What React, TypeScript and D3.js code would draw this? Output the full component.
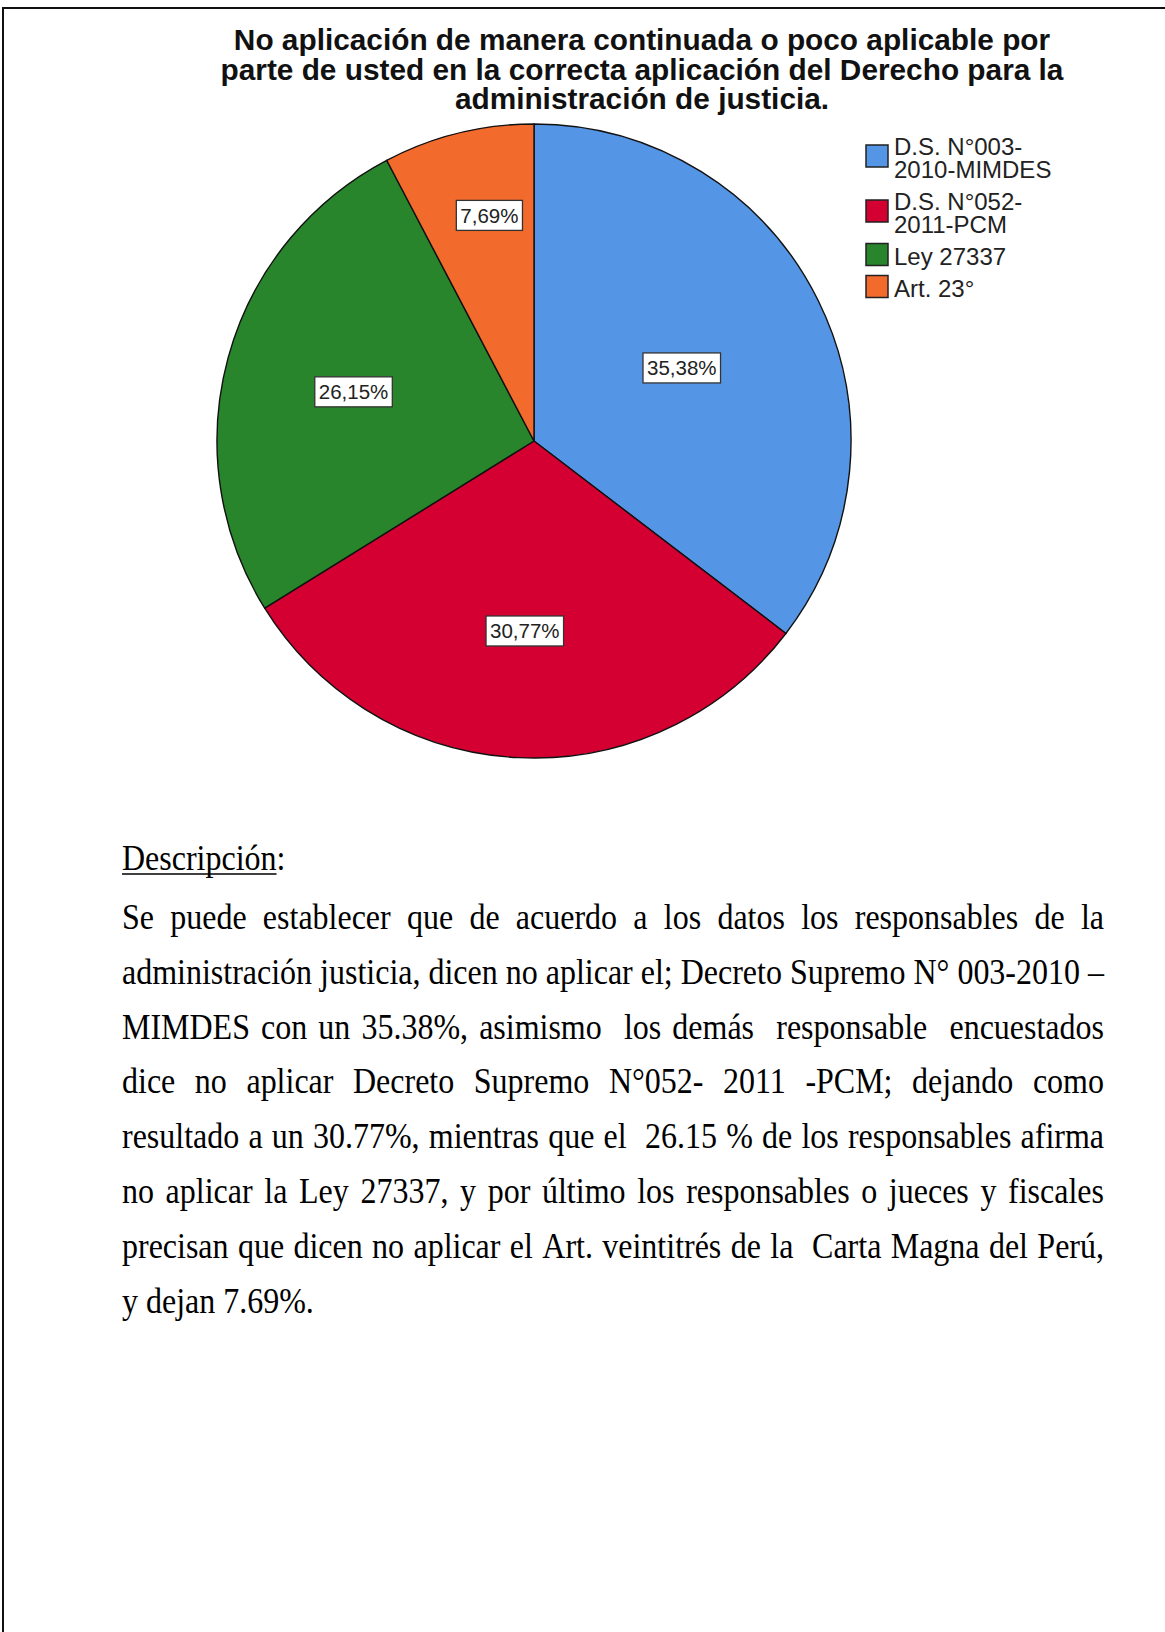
import React, { useEffect, useRef } from "react";
import * as d3 from "d3";

const W = 1165;
const H = 1632;

// chart data
const legendNames = [["D.S. N°003-", "2010-MIMDES"], ["D.S. N°052-", "2011-PCM"], ["Ley 27337"], ["Art. 23°"]];
const sliceValues = [35.38, 30.77, 26.15, 7.69];
const sliceColors = ["#5595e5", "#d40032", "#29852b", "#f26a2c"];

const titleLines = [
  "No aplicación de manera continuada o poco aplicable por",
  "parte de usted en la correcta aplicación del Derecho para la",
  "administración de justicia.",
];

const descHeading = "Descripción";
const descLines = [
  "Se puede establecer que de acuerdo a los datos los responsables de la",
  "administración justicia, dicen no aplicar el; Decreto Supremo N° 003-2010 –",
  "MIMDES con un 35.38%, asimismo  los demás  responsable  encuestados",
  "dice no aplicar Decreto Supremo N°052- 2011 -PCM; dejando como",
  "resultado a un 30.77%, mientras que el  26.15 % de los responsables afirma",
  "no aplicar la Ley 27337, y por último los responsables o jueces y fiscales",
  "precisan que dicen no aplicar el Art. veintitrés de la  Carta Magna del Perú,",
  "y dejan 7.69%.",
];

// how far out (fraction of radius) each slice label sits
const labelRadius = [0.52, 0.6, 0.59, 0.72];

const sans = "'Liberation Sans', Arial, sans-serif";
const serif = "'Liberation Serif', 'Times New Roman', serif";

const App = () => {
  const svgRef = useRef<SVGSVGElement>(null);

  useEffect(() => {
    const svg = d3.select(svgRef.current);
    svg.selectAll("*").remove();

    svg.append("rect").attr("width", W).attr("height", H).attr("fill", "#fff");

    // page frame (left + top only)
    svg
      .append("path")
      .attr("d", `M3,${H} V8 H${W}`)
      .attr("fill", "none")
      .attr("stroke", "#111")
      .attr("stroke-width", 2);

    // title, one text block with a tspan per line
    const title = svg
      .append("text")
      .attr("font-family", sans)
      .attr("font-weight", "bold")
      .attr("font-size", 29.8)
      .attr("text-anchor", "middle")
      .attr("fill", "#111");
    titleLines.forEach((t, i) => {
      title.append("tspan").attr("x", 642).attr("y", 50 + i * 29.5).text(t);
    });

    // pie
    const cx = 534;
    const cy = 441;
    const r = 317;
    const pie = d3.pie<number>().sort(null).value((d) => d);
    const arcs = pie(sliceValues);
    const arc = d3.arc<any>().innerRadius(0).outerRadius(r);

    const g = svg.append("g").attr("transform", `translate(${cx},${cy})`);
    g.selectAll("path.slice")
      .data(arcs)
      .join("path")
      .attr("class", "slice")
      .attr("d", arc)
      .attr("fill", (d, i) => sliceColors[i])
      .attr("stroke", "#111")
      .attr("stroke-width", 1.4)
      .attr("stroke-linejoin", "round");

    // slice labels
    const fmt = (v: number) => d3.format(".2f")(v).replace(".", ",") + "%";
    arcs.forEach((d, i) => {
      const lr = r * labelRadius[i];
      const [lx, ly] = d3.arc<any>().innerRadius(lr).outerRadius(lr).centroid(d);
      const lg = g.append("g").attr("transform", `translate(${lx + (i === 3 ? 10 : 0)},${ly - (i === 3 ? 4 : 0)})`);
      const txt = lg
        .append("text")
        .attr("text-anchor", "middle")
        .attr("y", 7.5)
        .attr("font-family", sans)
        .attr("font-size", 20.5)
        .attr("fill", "#222")
        .text(fmt(sliceValues[i]));
      const w = (txt.node() as SVGTextElement).getComputedTextLength();
      lg.insert("rect", "text")
        .attr("x", -w / 2 - 4)
        .attr("y", -15)
        .attr("width", w + 8)
        .attr("height", 30)
        .attr("fill", "#fff")
        .attr("stroke", "#333")
        .attr("stroke-width", 1.3);
    });

    // legend
    const legend = svg.append("g").attr("font-family", sans).attr("font-size", 24).attr("fill", "#222");
    let base = 155;
    legendNames.forEach((lines, i) => {
      const first = base;
      const last = base + (lines.length - 1) * 23;
      const mid = (first + last) / 2;
      legend
        .append("rect")
        .attr("x", 866)
        .attr("y", mid - 21.5)
        .attr("width", 22)
        .attr("height", 22)
        .attr("fill", sliceColors[i])
        .attr("stroke", "#222")
        .attr("stroke-width", 1.5);
      const entry = legend.append("text");
      lines.forEach((l, j) => {
        entry.append("tspan").attr("x", 894).attr("y", first + j * 23).text(l);
      });
      base = last + 32;
    });

    // description text
    const left = 122;
    const right = 1104;
    const fontSize = 32;
    const stretch = 1.13;
    const para = svg.append("g").attr("font-family", serif).attr("font-size", fontSize).attr("fill", "#000");

    const head = para.append("g").attr("transform", `translate(${left},870) scale(1,${stretch})`);
    const headText = head.append("text").text(descHeading + ":");
    const hw = (headText.node() as SVGTextElement).getSubStringLength(0, descHeading.length);
    head.append("line").attr("x1", 0).attr("x2", hw).attr("y1", 3.5).attr("y2", 3.5).attr("stroke", "#000").attr("stroke-width", 1.3);

    descLines.forEach((line, i) => {
      const lineG = para.append("g").attr("transform", `translate(${left},${928.7 + i * 54.9}) scale(1,${stretch})`);
      if (i === descLines.length - 1) {
        lineG.append("text").attr("xml:space", "preserve").style("white-space", "pre").text(line);
        return;
      }
      // justify: spread extra room over the space characters
      const tokens = line.split(/( +)/).filter((t) => t.length);
      const words = tokens.filter((t) => t.trim().length);
      const spaceCount = tokens.filter((t) => !t.trim().length).reduce((s, t) => s + t.length, 0);
      const widths = words.map((w) => {
        const tmp = lineG.append("text").text(w);
        const len = (tmp.node() as SVGTextElement).getComputedTextLength();
        tmp.remove();
        return len;
      });
      const spaceW = (right - left - d3.sum(widths)) / spaceCount;
      let x = 0;
      let wi = 0;
      tokens.forEach((t) => {
        if (t.trim().length) {
          lineG.append("text").attr("x", x).text(t);
          x += widths[wi++];
        } else {
          x += spaceW * t.length;
        }
      });
    });
  }, []);

  return (
    <div style={{ position: "absolute", left: 0, top: 0 }}>
      <svg ref={svgRef} width={W} height={H} style={{ display: "block" }}></svg>
    </div>
  );
};

export default App;
